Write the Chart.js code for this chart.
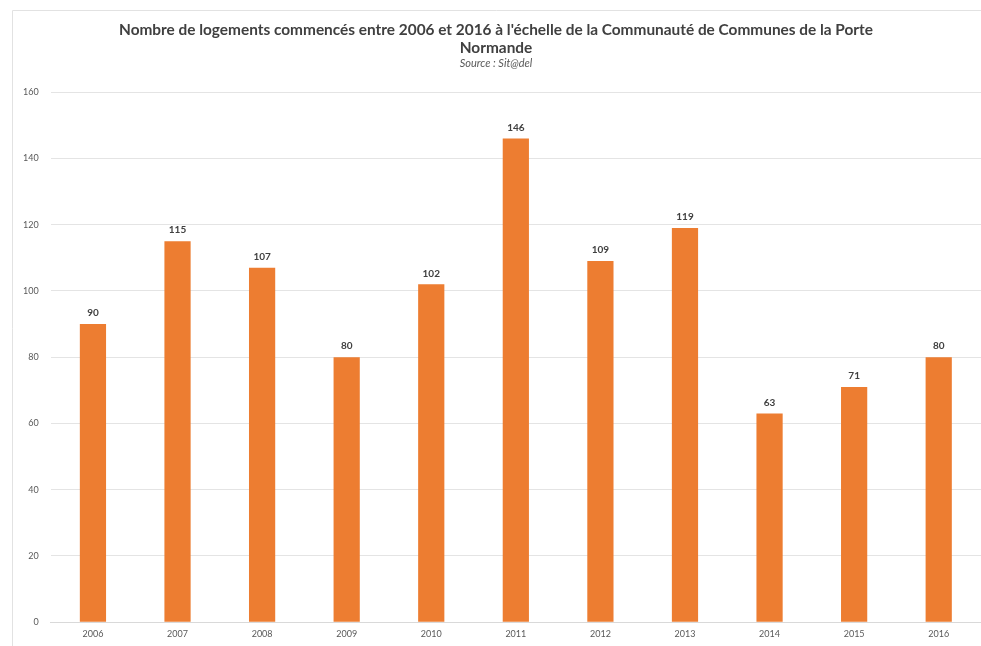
<!DOCTYPE html>
<html>
<head>
<meta charset="utf-8">
<script src="https://cdn.jsdelivr.net/npm/chart.js@4/dist/chart.umd.min.js"></script>
<style>
  html, body { margin: 0; padding: 0; background: #ffffff; }
  #wrap { width: 981px; height: 646px; position: relative; }
</style>
</head>
<body>
<div id="wrap"><canvas id="chart"></canvas></div>
<script>
// Housing starts per year, Communauté de Communes de la Porte Normande
const years = ['2006', '2007', '2008', '2009', '2010', '2011', '2012', '2013', '2014', '2015', '2016'];
const logements = [90, 115, 107, 80, 102, 146, 109, 119, 63, 71, 80];
const yTicks = [0, 20, 40, 60, 80, 100, 120, 140, 160];

const titleLines = [
  "Nombre de logements commencés entre 2006 et 2016 à l'échelle de la Communauté de Communes de la Porte",
  'Normande'
];
const sourceText = 'Source : Sit@del';

// Thin frame along the top and left edges of the chart box
const frame = {
  id: 'frame',
  beforeDraw(chart) {
    const ctx = chart.ctx;
    ctx.save();
    ctx.strokeStyle = '#e2e2e2';
    ctx.lineWidth = 1;
    ctx.beginPath();
    ctx.moveTo(12.5, chart.height);
    ctx.lineTo(12.5, 10.5);
    ctx.lineTo(chart.width, 10.5);
    ctx.stroke();
    ctx.restore();
  }
};

// Writes each bar's value just above it
const valueLabels = {
  id: 'valueLabels',
  afterDatasetsDraw(chart) {
    const ctx = chart.ctx;
    const meta = chart.getDatasetMeta(0);
    ctx.save();
    ctx.font = 'bold 10px Lato, "Open Sans", sans-serif';
    ctx.fillStyle = '#404040';
    ctx.textAlign = 'center';
    ctx.textBaseline = 'bottom';
    meta.data.forEach((bar, i) => {
      ctx.fillText(String(chart.data.datasets[0].data[i]), bar.x, bar.y - 6);
    });
    ctx.restore();
  }
};

new Chart(document.getElementById('chart'), {
  type: 'bar',
  data: {
    labels: years,
    datasets: [{
      data: logements,
      backgroundColor: '#ED7D31',
      borderWidth: 0,
      barPercentage: 0.62,
      categoryPercentage: 0.5
    }]
  },
  options: {
    responsive: true,
    maintainAspectRatio: false,
    animation: false,
    layout: { padding: { top: 21, right: 0, left: 11, bottom: 0 } },
    plugins: {
      legend: { display: false },
      tooltip: { enabled: false },
      title: {
        display: true,
        text: titleLines,
        color: '#404040',
        font: { family: 'Lato, "Open Sans", sans-serif', size: 15.4, weight: 'bold', lineHeight: 1.17 },
        padding: { top: 0, bottom: 0 }
      },
      subtitle: {
        display: true,
        text: sourceText,
        color: '#595959',
        font: { family: 'Lato, "Open Sans", sans-serif', size: 11, style: 'italic', lineHeight: 1.1 },
        padding: { top: 0, bottom: 23 }
      }
    },
    scales: {
      x: {
        grid: { display: false, drawTicks: false },
        border: { display: true, color: '#d9d9d9', width: 1 },
        ticks: {
          color: '#595959',
          font: { family: 'Lato, "Open Sans", sans-serif', size: 9 },
          padding: 6.5
        }
      },
      y: {
        min: 0,
        max: 160,
        afterBuildTicks(axis) { axis.ticks = yTicks.map(v => ({ value: v })); },
        grid: { color: '#e4e4e4', lineWidth: 1, drawTicks: false },
        border: { display: false },
        ticks: {
          color: '#595959',
          font: { family: 'Lato, "Open Sans", sans-serif', size: 9 },
          padding: 12
        }
      }
    }
  },
  plugins: [frame, valueLabels]
});
</script>
</body>
</html>
